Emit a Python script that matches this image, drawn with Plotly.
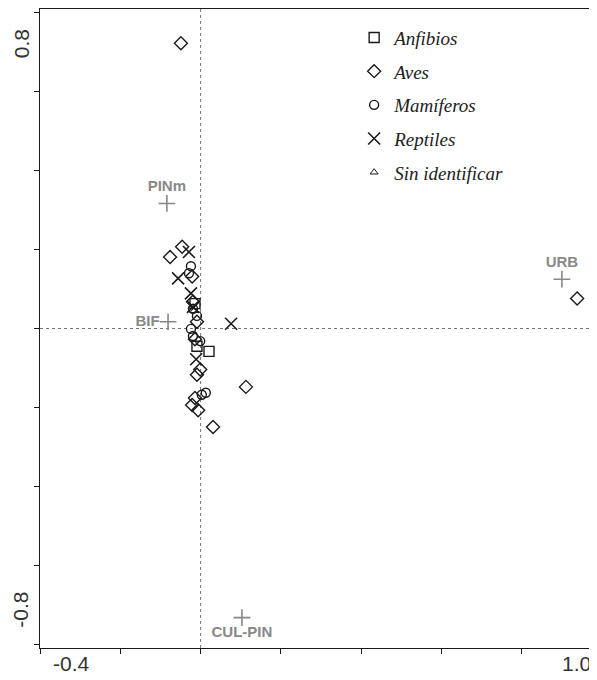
import plotly.graph_objects as go

# --- data (species scores) ---
anfibios_x = [-0.014, -0.009, 0.021]
anfibios_y = [0.063, -0.045, -0.058]

aves_x = [-0.049, 0.938, -0.076, -0.046, -0.021, -0.009, -0.014, -0.001, -0.009, -0.014, -0.021, -0.006, 0.031, 0.113, -0.019]
aves_y = [0.723, 0.076, 0.181, 0.207, 0.132, 0.017, -0.027, -0.104, -0.117, -0.176, -0.194, -0.207, -0.250, -0.148, 0.068]

mamiferos_x = [-0.024, -0.029, -0.024, -0.019, -0.001, 0.003, 0.013, -0.019, -0.009]
mamiferos_y = [0.158, 0.140, -0.001, -0.019, -0.032, -0.168, -0.163, 0.050, 0.032]

reptiles_x = [-0.029, -0.056, -0.024, 0.076, -0.011, -0.019]
reptiles_y = [0.194, 0.127, 0.089, 0.012, -0.078, 0.055]

sinid_x = [-0.016]
sinid_y = [0.045]

# --- environmental variables ---
env_names = ["PINm", "BIF", "URB", "CUL-PIN"]
env_x = [-0.084, -0.081, 0.900, 0.103]
env_y = [0.317, 0.017, 0.125, -0.733]
env_textpos = ["top center", "middle left", "top center", "bottom center"]

# axis end labels
x_end_labels = ["-0.4", "1.0"]
y_end_labels = ["0.8", "-0.8"]

X_RANGE = [-0.4, 0.985]
Y_RANGE = [-0.81, 0.81]

fig = go.Figure()

black = "#1a1a1a"
sym_line = dict(color=black, width=1.4)

fig.add_trace(go.Scatter(x=anfibios_x, y=anfibios_y, mode="markers", name="<i>Anfibios</i>",
                         legendgroup="a",
                         marker=dict(symbol="square-open", size=10, color=black, line=sym_line)))
fig.add_trace(go.Scatter(x=aves_x, y=aves_y, mode="markers", name="<i>Aves</i>",
                         legendgroup="b",
                         marker=dict(symbol="diamond-open", size=10, color=black, line=sym_line)))
fig.add_trace(go.Scatter(x=mamiferos_x, y=mamiferos_y, mode="markers", name="<i>Mamíferos</i>",
                         legendgroup="c",
                         marker=dict(symbol="circle-open", size=9, color=black, line=sym_line)))
fig.add_trace(go.Scatter(x=reptiles_x, y=reptiles_y, mode="markers", name="<i>Reptiles</i>",
                         legendgroup="d",
                         marker=dict(symbol="x-thin-open", size=12, color=black, line=dict(color=black, width=1.6))))
fig.add_trace(go.Scatter(x=sinid_x, y=sinid_y, mode="markers", name="<i>Sin identificar</i>",
                         legendgroup="e",
                         marker=dict(symbol="triangle-up-open", size=7, color=black, line=dict(color=black, width=1))))

fig.add_trace(go.Scatter(x=env_x, y=env_y, mode="markers+text",
                         text=["<b>" + n + "</b>" for n in env_names],
                         textposition=env_textpos, showlegend=False,
                         textfont=dict(family="Liberation Sans, Arial, sans-serif", size=15, color="#888888"),
                         marker=dict(symbol="cross-thin-open", size=12, color="#888888",
                                     line=dict(color="#888888", width=1.6))))

# dotted reference lines through origin
fig.add_shape(type="line", x0=0, x1=0, y0=Y_RANGE[0], y1=Y_RANGE[1], xref="x", yref="y",
              line=dict(color="#777777", width=1, dash="dot"), layer="below")
fig.add_shape(type="line", x0=X_RANGE[0], x1=X_RANGE[1], y0=0, y1=0, xref="x", yref="y",
              line=dict(color="#777777", width=1, dash="dot"), layer="below")

axis_font = dict(family="Liberation Sans, Arial, sans-serif", size=21, color="#333333")
# x end labels
fig.add_annotation(x=0.057, y=-0.024, xref="paper", yref="paper", text=x_end_labels[0],
                   showarrow=False, font=axis_font, xanchor="center", yanchor="middle")
fig.add_annotation(x=0.965, y=-0.024, xref="paper", yref="paper", text=x_end_labels[1],
                   showarrow=False, font=axis_font, xanchor="center", yanchor="middle")
# y end labels (rotated)
fig.add_annotation(x=-0.034, y=0.945, xref="paper", yref="paper", text=y_end_labels[0],
                   showarrow=False, font=axis_font, textangle=-90, xanchor="center", yanchor="middle")
fig.add_annotation(x=-0.034, y=0.06, xref="paper", yref="paper", text=y_end_labels[1],
                   showarrow=False, font=axis_font, textangle=-90, xanchor="center", yanchor="middle")

fig.update_xaxes(range=X_RANGE, tick0=-0.4, dtick=0.2, ticks="outside", ticklen=5, tickwidth=1.2,
                 tickcolor=black, showticklabels=False, showgrid=False, zeroline=False,
                 showline=True, linecolor=black, linewidth=1.3, mirror=True)
fig.update_yaxes(range=Y_RANGE, tick0=-0.8, dtick=0.2, ticks="outside", ticklen=5, tickwidth=1.2,
                 tickcolor=black, showticklabels=False, showgrid=False, zeroline=False,
                 showline=True, linecolor=black, linewidth=1.3, mirror=True)

# page body adds an 8px offset, so the figure is sized to fit the window
fig.update_layout(
    width=589, height=672,
    margin=dict(l=32, r=1, t=1, b=32),
    paper_bgcolor="white", plot_bgcolor="white",
    showlegend=True,
    legend=dict(x=0.565, y=0.985, xanchor="left", yanchor="top",
                font=dict(family="Liberation Serif, Times New Roman, serif", size=19, color="#222222"),
                bgcolor="rgba(0,0,0,0)", tracegroupgap=6, itemwidth=30,
                traceorder="grouped"),
)

fig.write_html("out.html")
